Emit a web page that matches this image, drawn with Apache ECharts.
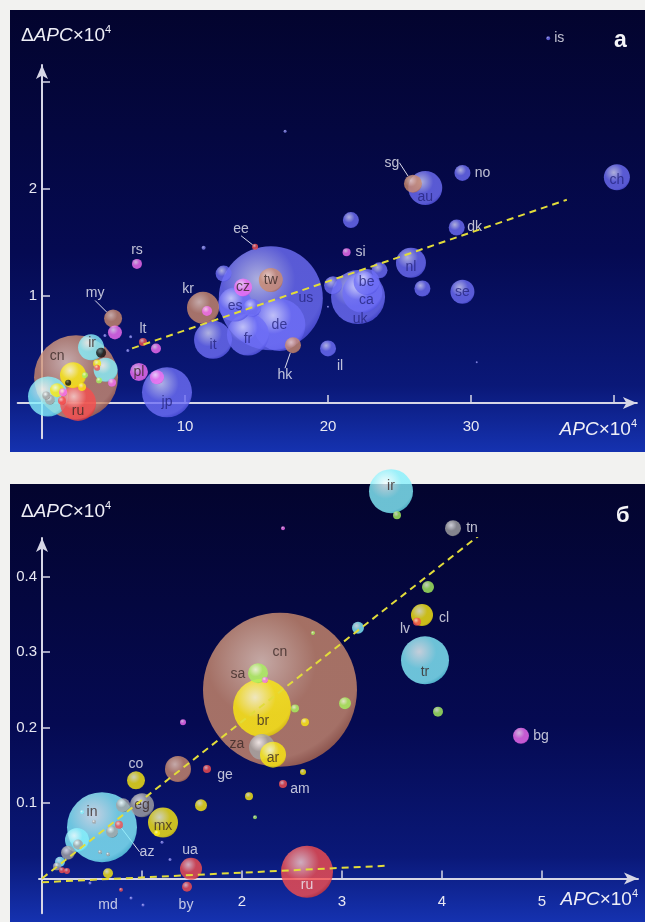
<!DOCTYPE html>
<html><head><meta charset="utf-8">
<script src="https://cdn.jsdelivr.net/npm/echarts@6/dist/echarts.min.js"></script>
<style>html,body{margin:0;padding:0;background:#f2f2f0}#c{width:645px;height:922px}</style>
</head><body><div id="c"></div><script>
// ---------- Panel а (top) ----------
const topNames = ['us','cn','uk','de','jp','fr','ca','','it','ru','es','au','kr','nl','ir','','be','ch','tw','se','','sg','cz','','my','pl','','no','dk','','','','','il','hk','','','','rs','','','','lt','si','','','','','','','','','','','','ee','is','','','','','','',''];
const topX = [16.0,2.38,22.1,16.6,8.74,14.4,22.4,0.42,11.96,2.52,13.5,26.8,11.26,25.8,3.43,4.45,22.7,40.2,16.0,29.4,2.17,25.94,14.06,14.7,4.97,6.78,20.35,29.4,29.0,21.6,12.7,23.6,26.6,20.0,17.55,8.04,5.1,1.05,6.64,11.54,7.97,4.13,7.06,21.3,4.9,3.85,3.85,3.99,3.0,1.83,1.4,1.47,0.55,0.3,2.8,14.9,35.4,11.3,17.0,30.4,20.0,4.4,6.2,6.0];
const topY = [0.98,0.24,0.99,0.73,0.10,0.64,1.03,0.06,0.59,0.0,0.92,2.01,0.89,1.31,0.52,0.31,1.13,2.11,1.15,1.04,0.26,2.05,1.08,0.89,0.79,0.29,1.10,2.15,1.64,1.71,1.21,1.24,1.07,0.51,0.54,0.24,0.66,0.12,1.30,0.86,0.51,0.47,0.57,1.41,0.19,0.37,0.33,0.21,0.26,0.19,0.02,0.10,0.03,0.07,0.15,1.46,3.41,1.45,2.54,0.38,0.90,0.63,0.62,0.49];
const topSize = [104,84,54,52,50,42,40,40,38,36,34,34,32,30,26,24,26,26,24,24,26,18,18,18,18,18,18,16,16,16,16,16,16,16,16,14,14,14,10,10,10,10,8,8,8,8,6,6,6,6,8,8,10,8,8,6,4,4,3,2,2,3,3,3];
const topGroup = ['blue','brown','blue','blue','blue','blue','blue','cyan','blue','red','blue','blue','brown','blue','cyan','cyan','blue','blue','brown','blue','yellow','brown','pink','blue','brown','pink','blue','blue','blue','blue','blue','blue','blue','blue','brown','pink','pink','yellow','pink','pink','pink','black','red','pink','pink','yellow','red','green','green','black','red','pink','gray','gray','yellow','red','blue','dot','dot','dot','dot','dot','dot','dot'];
const topTicksX = [10,20,30,40], topLabelsX = [10,20,30];
const topTicksY = [1,2,3], topLabelsY = [1,2];
const trendTopX = [6.3, 36.7], trendTopY = [0.51, 1.90];

// ---------- Panel б (bottom) ----------
const botNames = ['cn','in','br','ru','tr','ir','mx','','za','ar','eg','','cl','ua','sa','co','tn','bg','','','','','','','','','by','','','','','','','az','','lv','ge','am','','','','','','','','','','','md','','','','','','','','',''];
const botX = [2.38,0.60,2.20,2.65,3.83,3.49,1.21,1.36,2.20,2.31,1.00,0.35,3.80,1.49,2.16,0.94,4.11,4.79,0.81,0.26,0.70,3.86,3.16,3.03,1.59,0.66,1.45,3.96,0.18,0.15,0.36,0.20,0.25,0.77,3.55,3.75,1.65,2.41,2.53,2.63,2.07,2.61,1.41,2.23,1.15,2.41,2.71,2.13,0.79,0.89,1.01,1.28,1.20,0.48,0.52,0.58,0.66,0.40,0.28];
const botY = [0.250,0.068,0.226,0.009,0.289,0.513,0.074,0.145,0.174,0.164,0.097,0.051,0.349,0.013,0.272,0.130,0.464,0.189,0.097,0.034,0.062,0.386,0.332,0.232,0.097,0.007,-0.011,0.221,0.022,0.016,0.045,0.011,0.010,0.071,0.481,0.340,0.145,0.125,0.225,0.207,0.109,0.141,0.207,0.263,0.060,0.464,0.325,0.081,-0.015,-0.026,-0.035,0.025,0.048,-0.006,0.075,0.035,0.032,0.088,0.033];
const botSize = [154,70,58,52,48,44,30,26,26,26,24,24,22,22,20,18,16,16,14,14,12,12,12,12,12,10,10,10,10,8,10,6,6,8,8,8,8,8,8,8,8,6,6,6,6,4,4,4,4,3,3,3,3,3,4,4,4,4,6];
const botGroup = ['brown','cyan','yellow','red','cyan','cyan','yellow','brown','gray','yellow','gray','cyan','yellow','red','green','yellow','gray','pink','gray','gray','gray','green','cyan','green','yellow','yellow','red','green','cyan','gray','gray','red','red','red','green','red','red','red','green','yellow','yellow','yellow','pink','pink','yellow','pink','green','green','red','dot','dot','dot','dot','dot','gray','gray','gray','cyan','gray'];
const botTicksX = [1,2,3,4,5], botLabelsX = [2,3,4,5];
const botTicksY = [0.1,0.2,0.3,0.4], botLabelsY = [0.1,0.2,0.3,0.4];
const trendBot1X = [0.0, 4.78], trendBot1Y = [0.0, 0.497];
const trendBot2X = [0.0, 3.46], trendBot2Y = [-0.005, 0.017];

// ---------- styling ----------
const FONT = '"Liberation Sans", Arial, sans-serif';
const AX = '#d6d6e6';
const palette = {
  blue:['#d8d8ff','#6e6ef6','#4a4adc'], brown:['#f4d0bc','#cc8a6c','#a45c42'],
  pink:['#ffdeff','#f46ef2','#c842c8'], cyan:['#f4ffff','#86f0fc','#52cde0'],
  red:['#ffd0d0','#f64e4e','#cc2c2c'], yellow:['#ffffd0','#fbea10','#d8c000'],
  green:['#f4ffe0','#a8f25e','#7ac23a'], gray:['#ffffff','#a4a4a4','#4e4e4e'],
  black:['#666666','#111111','#000000'], dot:['#c8c8ff','#8888ee','#6868d0']
};
function sphere(k){const c=palette[k];return {type:'radial',x:0.38,y:0.32,r:0.74,colorStops:[{offset:0,color:c[0]},{offset:0.48,color:c[1]},{offset:0.86,color:c[1]},{offset:1,color:c[2]}]};}
// label placement: [dx, dy, tone, leader]
const placeTop = {us:[35,0,'d'],cn:[-19,-21,'d'],uk:[2,22,'d'],de:[0,0,'d'],jp:[0,10,'d'],fr:[0,5,'d'],ca:[4,7,'d'],it:[0,5,'d'],ru:[0,8,'d'],es:[0,2,'d'],au:[0,9,'d'],kr:[-15,-19,'w'],nl:[0,4,'d'],ir:[1,-4,'d'],be:[0,0,'d'],ch:[0,3,'d'],tw:[0,0,'d'],se:[0,0,'d'],sg:[-21,-21,'w',1],cz:[0,0,'d'],my:[-18,-25,'w',1],pl:[0,0,'d'],no:[20,0,'w'],dk:[18,0,'w'],il:[12,18,'w'],hk:[-8,30,'w',1],rs:[0,-14,'w'],lt:[0,-13,'w'],si:[14,0,'w'],ee:[-14,-18,'w',1],is:[11,0,'w']};
const placeBot = {cn:[0,-38,'d'],'in':[-10,-15,'d'],br:[1,13,'d'],ru:[0,13,'w'],tr:[0,12,'d'],ir:[0,-5,'d'],mx:[0,4,'d'],za:[-25,-3,'d'],ar:[0,3,'d'],eg:[0,0,'d'],cl:[22,3,'w'],ua:[-1,-19,'w'],sa:[-20,1,'d'],co:[0,-16,'w'],tn:[19,0,'w'],bg:[20,0,'w'],az:[28,27,'w',1],by:[-1,18,'w'],lv:[-12,7,'w'],ge:[18,6,'w'],am:[17,5,'w'],md:[-13,15,'w']};

function bubbles(names,xs,ys,sizes,groups,place,ai){
  const idx=names.map((_,i)=>i).sort((a,b)=>sizes[b]-sizes[a]);
  const offs=[];
  const data=idx.map(i=>{
    const n=names[i], p=n?place[n]:null;
    offs.push(p?[p[0],p[1]]:[0,0]);
    const it={name:n,value:[xs[i],ys[i],sizes[i]],itemStyle:{color:sphere(groups[i])}};
    if(p){
      it.label={show:true,color:p[2]==='w'?'#eeeef6':(groups[i]==='blue'?'#262680':'#3a2826')};
      if(p[3]) it.labelLine={show:true};
    }
    return it;
  });
  return {type:'scatter',xAxisIndex:ai,yAxisIndex:ai,clip:false,symbolSize:v=>v[2],data,
    label:{show:false,position:'inside',formatter:'{b}',fontSize:14,fontFamily:FONT},
    labelLine:{show:false,lineStyle:{color:'#dcdcec',width:1}},
    labelLayout:p=>{const o=offs[p.dataIndex]||[0,0];return {dx:o[0],dy:o[1]};},
    emphasis:{disabled:true},silent:true,z:2};
}
function trend(xs,ys,ai){
  return {type:'line',xAxisIndex:ai,yAxisIndex:ai,data:xs.map((x,i)=>[x,ys[i]]),symbol:'none',silent:true,
    lineStyle:{color:'#e2dc3a',width:2,type:[7,5]},z:3};
}
function xAx(ai,min,max,ticks,labels,off){
  return {type:'value',gridIndex:ai,min,max,offset:off,splitLine:{show:false},
    axisLine:{onZero:false,symbol:['none','arrow'],symbolSize:[9,14],lineStyle:{color:AX,width:2}},
    axisTick:{inside:true,length:8,customValues:ticks,lineStyle:{color:AX,width:1.5}},
    axisLabel:{customValues:labels,margin:16,color:'#e8e8f2',fontSize:15,fontFamily:FONT}};
}
function yAx(ai,min,max,ticks,labels,off){
  return {type:'value',gridIndex:ai,min,max,offset:off,splitLine:{show:false},
    axisLine:{onZero:false,symbol:['none','arrow'],symbolSize:[9,14],lineStyle:{color:AX,width:2}},
    axisTick:{inside:true,length:8,customValues:ticks,lineStyle:{color:AX,width:1.5}},
    axisLabel:{customValues:labels,margin:5,color:'#e8e8f2',fontSize:15,fontFamily:FONT}};
}
const bg = {type:'linear',x:0,y:0,x2:0,y2:1,colorStops:[{offset:0,color:'#03042e'},{offset:0.55,color:'#050a52'},{offset:0.85,color:'#0a1878'},{offset:1,color:'#1532b0'}]};
const rich = {a:{fontSize:19,fontFamily:FONT,fill:'#eeeef6'},i:{fontSize:19,fontStyle:'italic',fontFamily:FONT,fill:'#eeeef6'},s:{fontSize:11,fontFamily:FONT,verticalAlign:'top',fill:'#eeeef6',padding:[0,0,12,0]}};
function tx(x,y,text,align){return {type:'text',x,y,z:50,silent:true,style:{text,rich,fill:'#eeeef6',font:'19px '+FONT,align:align||'left'}};}

const chart = echarts.init(document.getElementById('c'));
chart.setOption({
  animation:false, backgroundColor:'#f2f2f0',
  graphic:[
    {type:'rect',z:-10,silent:true,shape:{x:10,y:10,width:635,height:442},style:{fill:bg}},
    {type:'rect',z:-10,silent:true,shape:{x:10,y:484,width:635,height:438},style:{fill:bg}},
    tx(21,24,'{a|Δ}{i|APC}{a|×10}{s|4}'),
    tx(637,418,'{i|APC}{a|×10}{s|4}','right'),
    tx(21,500,'{a|Δ}{i|APC}{a|×10}{s|4}'),
    tx(638,888,'{i|APC}{a|×10}{s|4}','right'),
    {type:'text',x:614,y:29,z:50,silent:true,style:{text:'а',fill:'#f4f4f8',font:'bold 23px '+FONT}},
    {type:'text',x:616,y:505,z:50,silent:true,style:{text:'б',fill:'#f4f4f8',font:'bold 22px '+FONT}}
  ],
  grid:[
    {left:17.7,top:64.9,width:619.2,height:373.4},
    {left:39,top:538,width:599,height:375.2}
  ],
  xAxis:[xAx(0,-1.7,41.6,topTicksX,topLabelsX,-35.3), xAx(1,-0.03,5.96,botTicksX,botLabelsX,-34.7)],
  yAxis:[yAx(0,-0.33,3.16,topTicksY,topLabelsY,-24.3), yAx(1,-0.046,0.451,botTicksY,botLabelsY,-3)],
  series:[
    bubbles(topNames,topX,topY,topSize,topGroup,placeTop,0),
    trend(trendTopX,trendTopY,0),
    bubbles(botNames,botX,botY,botSize,botGroup,placeBot,1),
    trend(trendBot1X,trendBot1Y,1),
    trend(trendBot2X,trendBot2Y,1)
  ]
});
</script></body></html>
